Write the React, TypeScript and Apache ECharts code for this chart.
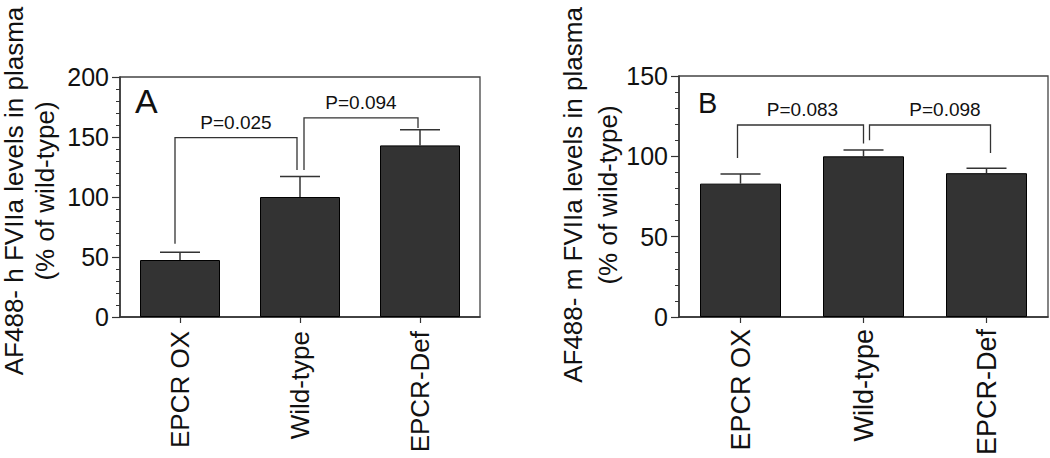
import React, { useEffect, useRef } from "react";
import * as echarts from "echarts";

const categories = ["EPCR OX", "Wild-type", "EPCR-Def"];
const meansA = [47.5, 100, 143];
const errA = [6.5, 17, 13];
const meansB = [83, 100, 89.5];
const errB = [6, 4, 3];
const yMaxA = 200;
const yMaxB = 150;
const yStep = 50;
const bracketLabelsA = ["P=0.025", "P=0.094"];
// [left category, left leg bottom, right category, right leg bottom, bracket top]
const bracketsA = [
  [0, 61, 1, 122.5, 149.5],
  [1, 122.5, 2, 157.5, 166],
];
const bracketLabelsB = ["P=0.083", "P=0.098"];
const bracketsB = [
  [0, 99, 1, 108, 119.5],
  [1, 110, 2, 102, 119.5],
];
const yTitleA = ["AF488- h FVIIa levels in plasma", "(% of wild-type)"];
const yTitleB = ["AF488- m FVIIa levels in plasma", "(% of wild-type)"];
const panelLetters = ["A", "B"];

const FONT = "'Liberation Sans', Arial, Helvetica, sans-serif";
const INK = "#111";
const LINE = "#333";

function bracketRender(labels: string[], legShift: number[][], textShift: number[]) {
  return (params: any, api: any) => {
    const i = params.dataIndex;
    const lb = api.coord([api.value(0), api.value(1)]);
    const lt = api.coord([api.value(0), api.value(4)]);
    const rb = api.coord([api.value(2), api.value(3)]);
    const lx = lb[0] + legShift[i][0];
    const rx = rb[0] + legShift[i][1];
    const ty = lt[1];
    return {
      type: "group",
      children: [
        {
          type: "polyline",
          shape: { points: [[lx, lb[1]], [lx, ty], [rx, ty], [rx, rb[1]]] },
          style: { stroke: LINE, lineWidth: 1.3, fill: "none" },
        },
        {
          type: "text",
          x: (lx + rx) / 2 + textShift[i],
          y: ty - 6,
          style: {
            text: labels[i],
            fontSize: 19,
            fontFamily: FONT,
            fill: INK,
            align: "center",
            verticalAlign: "bottom",
          },
        },
      ],
    };
  };
}

function errRender(params: any, api: any) {
  const base = api.coord([api.value(0), api.value(1)]);
  const top = api.coord([api.value(0), api.value(2)]);
  return {
    type: "group",
    children: [
      {
        type: "line",
        shape: { x1: base[0], y1: base[1], x2: top[0], y2: top[1] },
        style: { stroke: LINE, lineWidth: 1.5 },
      },
      {
        type: "line",
        shape: { x1: top[0] - 20, y1: top[1], x2: top[0] + 20, y2: top[1] },
        style: { stroke: LINE, lineWidth: 1.5 },
      },
    ],
  };
}

function yAxisFor(gridIndex: number, max: number) {
  return {
    type: "value",
    gridIndex,
    min: 0,
    max,
    interval: yStep,
    axisLine: { show: true, lineStyle: { color: LINE, width: 1.5 } },
    axisTick: { show: true, length: 8, lineStyle: { color: LINE, width: 1.2 } },
    minorTick: { show: true, splitNumber: 5, length: 4, lineStyle: { color: LINE, width: 1 } },
    splitLine: { show: false },
    axisLabel: { fontSize: 25, color: INK, margin: 11, fontFamily: FONT },
  };
}

function xAxisFor(gridIndex: number, fontSize: number, margin: number) {
  return {
    type: "category",
    gridIndex,
    data: categories,
    axisLine: { show: true, lineStyle: { color: LINE, width: 1.5 } },
    axisTick: { show: true, alignWithLabel: true, length: 6, lineStyle: { color: LINE, width: 1.2 } },
    axisLabel: { rotate: 90, fontSize, color: INK, margin, fontFamily: FONT },
  };
}

function titleTexts(lines: string[], xs: number[], cy: number) {
  return lines.map((t, k) => ({
    type: "text",
    x: xs[k],
    y: cy,
    rotation: Math.PI / 2,
    style: {
      text: t,
      fontSize: 26,
      fontFamily: FONT,
      fill: INK,
      align: "center",
      verticalAlign: "middle",
    },
  }));
}

export default function App() {
  const ref = useRef<HTMLDivElement>(null);
  useEffect(() => {
    if (!ref.current) return;
    const chart = echarts.init(ref.current, undefined, { renderer: "svg" });
    const option: any = {
      animation: false,
      backgroundColor: "#ffffff",
      grid: [
        { left: 120, top: 77, width: 360, height: 240, show: true, borderColor: "#444", borderWidth: 1.3 },
        { left: 679, top: 76, width: 369, height: 245, show: true, borderColor: "#444", borderWidth: 1.3 },
      ],
      xAxis: [xAxisFor(0, 26, 14), xAxisFor(1, 27, 12)],
      yAxis: [yAxisFor(0, yMaxA), yAxisFor(1, yMaxB)],
      series: [
        {
          type: "bar",
          xAxisIndex: 0,
          yAxisIndex: 0,
          data: meansA,
          barWidth: 80,
          itemStyle: { color: "#333333", borderColor: "#000", borderWidth: 1 },
        },
        {
          type: "bar",
          xAxisIndex: 1,
          yAxisIndex: 1,
          data: meansB,
          barWidth: 81,
          itemStyle: { color: "#333333", borderColor: "#000", borderWidth: 1 },
        },
        {
          type: "custom",
          xAxisIndex: 0,
          yAxisIndex: 0,
          renderItem: errRender,
          data: categories.map((_, i) => [i, meansA[i], meansA[i] + errA[i]]),
          z: 3,
        },
        {
          type: "custom",
          xAxisIndex: 1,
          yAxisIndex: 1,
          renderItem: errRender,
          data: categories.map((_, i) => [i, meansB[i], meansB[i] + errB[i]]),
          z: 3,
        },
        {
          type: "custom",
          xAxisIndex: 0,
          yAxisIndex: 0,
          renderItem: bracketRender(bracketLabelsA, [[-5, -3], [4, -2]], [0, 0]),
          data: bracketsA,
          z: 4,
        },
        {
          type: "custom",
          xAxisIndex: 1,
          yAxisIndex: 1,
          renderItem: bracketRender(bracketLabelsB, [[-3, 0], [6, 4]], [2, 15]),
          data: bracketsB,
          z: 4,
        },
      ],
      graphic: [
        ...titleTexts(yTitleA, [14, 45], 191),
        ...titleTexts(yTitleB, [573, 608], 195),
        {
          type: "text",
          left: 135,
          top: 84,
          style: { text: panelLetters[0], fontSize: 34, fontFamily: FONT, fill: INK },
        },
        {
          type: "text",
          left: 698,
          top: 88,
          style: { text: panelLetters[1], fontSize: 29, fontFamily: FONT, fill: INK },
        },
      ],
    };
    chart.setOption(option);
    return () => chart.dispose();
  }, []);
  return (
    <div
      ref={ref}
      style={{ position: "absolute", left: 0, top: 0, width: 1050, height: 458, background: "#fff" }}
    />
  );
}
